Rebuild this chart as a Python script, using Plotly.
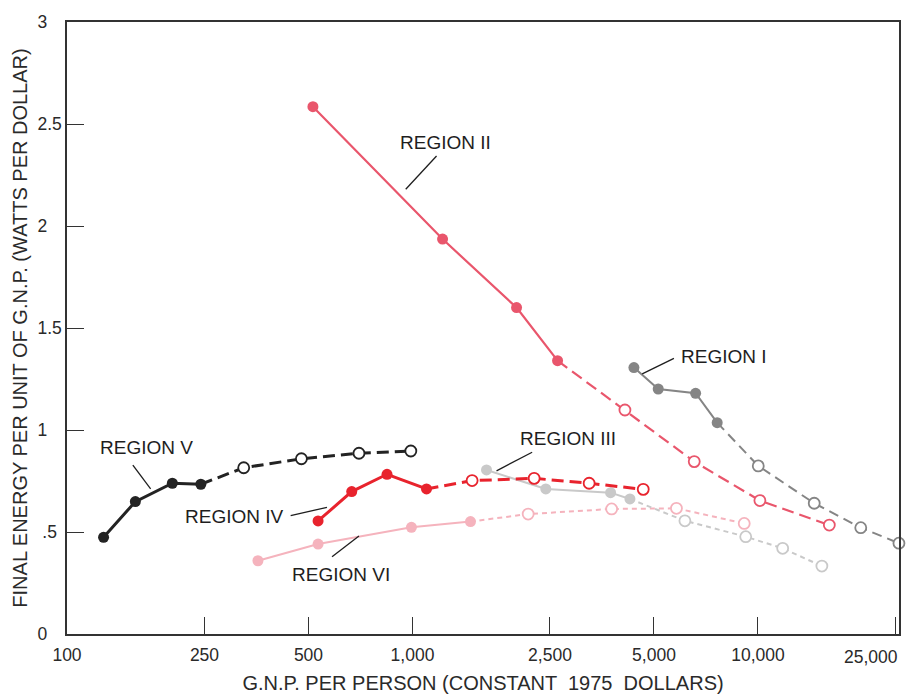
import plotly.graph_objects as go
import math

# ---------------- data ----------------
r1_x_hist = [4375, 5144, 6600, 7620]
r1_y_hist = [1.306, 1.201, 1.180, 1.036]
r1_x_proj = [10020, 14550, 19840, 25590]
r1_y_proj = [0.824, 0.641, 0.521, 0.445]

r2_x_hist = [515, 1222, 2001, 2630]
r2_y_hist = [2.585, 1.936, 1.600, 1.340]
r2_x_proj = [4120, 6540, 10130, 16090]
r2_y_proj = [1.098, 0.845, 0.654, 0.534]

r3_x_hist = [1638, 2432, 3745, 4260]
r3_y_hist = [0.804, 0.711, 0.693, 0.662]
r3_x_proj = [6145, 9217, 11790, 15310]
r3_y_proj = [0.555, 0.477, 0.420, 0.333]

r4_x_hist = [533, 667, 844, 1098]
r4_y_hist = [0.554, 0.698, 0.783, 0.711]
r4_x_proj = [1488, 2250, 3246, 4655]
r4_y_proj = [0.752, 0.763, 0.739, 0.709]

r5_x_hist = [127.6, 157.7, 201.8, 244]
r5_y_hist = [0.474, 0.649, 0.739, 0.734]
r5_x_proj = [324.7, 477, 700, 989]
r5_y_proj = [0.815, 0.859, 0.886, 0.897]

r6_x_hist = [357, 533, 993, 1472]
r6_y_hist = [0.359, 0.441, 0.523, 0.551]
r6_x_proj = [2162, 3771, 5808, 9125]
r6_y_proj = [0.588, 0.613, 0.616, 0.542]

x_tickvals = [100, 250, 500, 1000, 2500, 5000, 10000, 25000]
x_ticktext = ["100", "250", "500", "1,000", "2,500", "5,000", "10,000", ""]
last_x_label = "25,000"
y_tickvals = [0, 0.5, 1, 1.5, 2, 2.5, 3]
y_ticktext = ["0\u00a0\u00a0\u00a0", "\u00a0.5\u00a0", "1\u00a0\u00a0\u00a0", "1.5",
              "2\u00a0\u00a0\u00a0", "2.5", "3\u00a0\u00a0\u00a0"]

FONT = "Liberation Sans, Arial, Helvetica, sans-serif"

regions = [
    # name, xh, yh, xp, yp, color, width, dash
    ("Region VI", r6_x_hist, r6_y_hist, r6_x_proj, r6_y_proj, "#f5b3bd", 2, "5px,4px"),
    ("Region III", r3_x_hist, r3_y_hist, r3_x_proj, r3_y_proj, "#c9c9c9", 2, "5px,4px"),
    ("Region I", r1_x_hist, r1_y_hist, r1_x_proj, r1_y_proj, "#858585", 2, "10px,6px"),
    ("Region II", r2_x_hist, r2_y_hist, r2_x_proj, r2_y_proj, "#e9566c", 2.2, "12px,6px"),
    ("Region IV", r4_x_hist, r4_y_hist, r4_x_proj, r4_y_proj, "#e8232d", 3, "12px,6px"),
    ("Region V", r5_x_hist, r5_y_hist, r5_x_proj, r5_y_proj, "#232323", 3, "12px,6px"),
]

fig = go.Figure()
for name, xh, yh, xp, yp, col, w, dash in regions:
    fig.add_trace(go.Scatter(
        x=[xh[-1]] + xp, y=[yh[-1]] + yp, mode="lines",
        line=dict(color=col, width=w, dash=dash), hoverinfo="skip",
        showlegend=False, cliponaxis=False))
    fig.add_trace(go.Scatter(
        x=xp, y=yp, mode="markers", name=name + " projection",
        marker=dict(size=11, color="white", line=dict(color=col, width=1.8)),
        showlegend=False, cliponaxis=False))
    fig.add_trace(go.Scatter(
        x=xh, y=yh, mode="lines+markers", name=name,
        line=dict(color=col, width=w),
        marker=dict(size=11, color=col, line=dict(color=col, width=0)),
        showlegend=False, cliponaxis=False))

labels = [
    ("REGION II", 1249, 2.407, (956, 2.180), (1174, 2.343)),
    ("REGION I", 7970, 1.358, (4624, 1.275), (5711, 1.351)),
    ("REGION III", 2817, 0.956, (1751, 0.800), (2220, 0.891)),
    ("REGION IV", 305.9, 0.574, (444, 0.580), (565.6, 0.621)),
    ("REGION V", 170, 0.912, (155.1, 0.828), (174.6, 0.711)),
    ("REGION VI", 620, 0.294, (585, 0.379), (700, 0.480)),
]
for txt, lx, ly, p0, p1 in labels:
    fig.add_annotation(x=math.log10(lx), y=ly, text=txt, showarrow=False,
                       xanchor="center", yanchor="middle",
                       font=dict(family=FONT, size=19, color="#1e1e1e"))
    fig.add_shape(type="line", xref="x", yref="y", x0=p0[0], y0=p0[1],
                  x1=p1[0], y1=p1[1], line=dict(color="#1e1e1e", width=1.3))

# last x tick label sits left of its tick (as in the original)
fig.add_annotation(x=math.log10(x_tickvals[-1]), xref="x", y=0, yref="paper",
                   text=last_x_label, showarrow=False, xanchor="right",
                   yanchor="top", xshift=4, yshift=-12, borderpad=0,
                   font=dict(family=FONT, size=17.5, color="#2a2a2a"))

fig.update_xaxes(
    type="log", range=[2, math.log10(25600)],
    tickvals=x_tickvals, ticktext=x_ticktext,
    ticks="inside", ticklen=17, tickwidth=1.3, tickcolor="#333",
    showline=True, linecolor="#333", linewidth=1.5, mirror=True,
    showgrid=False, zeroline=False,
    ticklabelstandoff=4,
    tickfont=dict(family=FONT, size=17.5, color="#2a2a2a"),
    title=dict(text="G.N.P. PER PERSON (CONSTANT  1975  DOLLARS)",
               font=dict(family=FONT, size=20, color="#2a2a2a"), standoff=14),
)
fig.update_yaxes(
    range=[0, 3], tickvals=y_tickvals, ticktext=y_ticktext,
    ticks="inside", ticklen=17, tickwidth=1.3, tickcolor="#333",
    showline=True, linecolor="#333", linewidth=1.5, mirror=True,
    showgrid=False, zeroline=False,
    tickfont=dict(family=FONT, size=17.5, color="#2a2a2a"),
    title=dict(text="FINAL ENERGY PER UNIT OF G.N.P. (WATTS PER DOLLAR)",
               font=dict(family=FONT, size=20, color="#2a2a2a"), standoff=4),
)
fig.update_layout(
    width=908, height=694,
    margin=dict(l=67, r=9, t=22, b=60, autoexpand=False),
    paper_bgcolor="white", plot_bgcolor="white",
    font=dict(family=FONT),
)
fig.write_html("out.html")
